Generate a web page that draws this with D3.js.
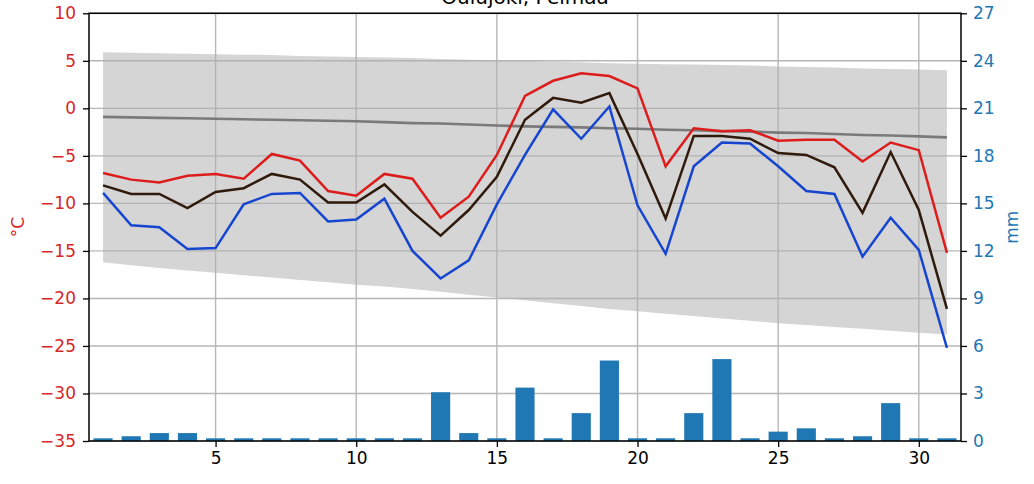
<!DOCTYPE html>
<html>
<head>
<meta charset="utf-8">
<script src="https://cdn.jsdelivr.net/npm/d3@7"></script>
<style>
	body { margin: 0; background: #fff; }
	svg text { font-family: "DejaVu Sans", sans-serif; }
</style>
</head>
<body>
<svg id="chart" width="1034" height="484"></svg>
<script>
// @ Data
const days = d3.range(1, 32);
const tMax = [-6.8, -7.5, -7.8, -7.1, -6.9, -7.4, -4.8, -5.5, -8.7, -9.2, -6.9, -7.4, -11.5, -9.3, -4.9, 1.3,
	2.9, 3.7, 3.4, 2.1, -6.1, -2.1, -2.4, -2.3, -3.4, -3.3, -3.3, -5.6, -3.6, -4.4, -15.2];
const tMean = [-8.1, -9.0, -9.0, -10.5, -8.8, -8.4, -6.9, -7.5, -9.9, -9.9, -8.0, -10.9, -13.4, -10.7, -7.2, -1.2,
	1.1, 0.6, 1.6, -4.8, -11.6, -2.9, -2.9, -3.2, -4.7, -4.9, -6.2, -11.0, -4.6, -10.7, -21.1];
const tMin = [-8.9, -12.3, -12.5, -14.8, -14.7, -10.1, -9.0, -8.9, -11.9, -11.7, -9.5, -15.0, -17.9, -16.0, -10.1, -4.9,
	-0.1, -3.2, 0.2, -10.2, -15.3, -6.1, -3.6, -3.7, -6.1, -8.7, -9.0, -15.6, -11.5, -14.9, -25.2];
const climMean = [-0.9, -0.95, -1.0, -1.05, -1.1, -1.15, -1.2, -1.25, -1.3, -1.35, -1.45, -1.55, -1.6, -1.7, -1.8, -1.9,
	-1.95, -2.0, -2.1, -2.15, -2.25, -2.3, -2.4, -2.45, -2.55, -2.6, -2.7, -2.8, -2.85, -2.95, -3.05];
const climHigh = [5.9, 5.85, 5.8, 5.75, 5.7, 5.65, 5.6, 5.5, 5.45, 5.4, 5.35, 5.3, 5.2, 5.1, 5.05, 5.0,
	4.9, 4.85, 4.75, 4.7, 4.65, 4.6, 4.55, 4.5, 4.4, 4.35, 4.3, 4.2, 4.15, 4.1, 4.0];
const climLow = [-16.2, -16.5, -16.8, -17.05, -17.3, -17.55, -17.8, -18.05, -18.3, -18.55, -18.75, -19.0, -19.3, -19.6, -19.9, -20.2,
	-20.5, -20.8, -21.1, -21.35, -21.6, -21.85, -22.1, -22.35, -22.6, -22.8, -23.0, -23.2, -23.4, -23.6, -23.8];
const precip = [0.17, 0.3, 0.5, 0.5, 0.17, 0.17, 0.17, 0.17, 0.17, 0.17, 0.17, 0.17, 3.08, 0.5, 0.17, 3.37,
	0.17, 1.76, 5.08, 0.17, 0.17, 1.76, 5.17, 0.17, 0.59, 0.8, 0.17, 0.3, 2.39, 0.17, 0.17];

const title = "Oulujoki, Pelmaa";
const tTicks = d3.range(-35, 11, 5);
const pTicks = d3.range(0, 28, 3);
const xTicks = [5, 10, 15, 20, 25, 30];

// @ Layout
const plotL = 89, plotR = 961, plotT = 13.3, plotB = 441;
const svg = d3.select("#chart");

const x = d3.scaleLinear().domain([0.5, 31.5]).range([plotL, plotR]);
const yT = d3.scaleLinear().domain([-35, 10]).range([plotB, plotT]);
const yP = d3.scaleLinear().domain([0, 27]).range([plotB, plotT]);

const red = "#dd1c1c";
const blue = "#1f77b4";

// band of climatology
const band = d3.area()
	.x((d, i) => x(days[i]))
	.y0((d, i) => yT(climLow[i]))
	.y1((d) => yT(d));
svg.append("path")
	.datum(climHigh)
	.attr("d", band)
	.attr("fill", "#d5d5d5");

// grid
const grid = svg.append("g").attr("stroke", "#b0b0b0").attr("stroke-width", 1.4).attr("opacity", 0.9);
grid.selectAll("line.h")
	.data(tTicks)
	.enter()
	.append("line")
	.attr("x1", plotL).attr("x2", plotR)
	.attr("y1", (d) => yT(d)).attr("y2", (d) => yT(d));
grid.selectAll("line.v")
	.data(xTicks)
	.enter()
	.append("line")
	.attr("y1", plotT).attr("y2", plotB)
	.attr("x1", (d) => x(d)).attr("x2", (d) => x(d));

// lines
const lineOf = (arr) => d3.line().x((d, i) => x(days[i])).y((d) => yT(d))(arr);
const series = [
	{ values: climMean, color: "#7a7a7a", width: 2.6 },
	{ values: tMax, color: red, width: 2.5 },
	{ values: tMean, color: "#2f1a0c", width: 2.5 },
	{ values: tMin, color: "#1646d0", width: 2.5 },
];
svg.append("g")
	.selectAll("path")
	.data(series)
	.enter()
	.append("path")
	.attr("d", (d) => lineOf(d.values))
	.attr("fill", "none")
	.attr("stroke", (d) => d.color)
	.attr("stroke-width", (d) => d.width)
	.attr("stroke-linejoin", "miter");

// precipitation bars
const barW = 0.68;
svg.append("g")
	.selectAll("rect")
	.data(precip)
	.enter()
	.append("rect")
	.attr("x", (d, i) => x(days[i] - barW / 2))
	.attr("width", x(barW) - x(0))
	.attr("y", (d) => yP(d))
	.attr("height", (d) => yP(0) - yP(d))
	.attr("fill", blue);

// @ Axes
const styleAxis = (g, color) => {
	g.select(".domain").remove();
	g.selectAll(".tick line").attr("stroke", "#000").attr("stroke-width", 1.3);
	g.selectAll(".tick text").attr("fill", color).style("font-size", "17px").style("font-family", "DejaVu Sans");
};
svg.append("g")
	.attr("transform", `translate(${plotL},0)`)
	.call(d3.axisLeft(yT).tickValues(tTicks).tickSize(6).tickPadding(7).tickFormat((d) => d3.format("d")(d).replace("-", "\u2212")))
	.call((g) => styleAxis(g, "#d62728"));
svg.append("g")
	.attr("transform", `translate(${plotR},0)`)
	.call(d3.axisRight(yP).tickValues(pTicks).tickSize(6).tickPadding(6))
	.call((g) => styleAxis(g, blue));
svg.append("g")
	.attr("transform", `translate(0,${plotB})`)
	.call(d3.axisBottom(x).tickValues(xTicks).tickSize(6).tickPadding(5))
	.call((g) => styleAxis(g, "#000"));

// spines
svg.append("rect")
	.attr("x", plotL).attr("y", plotT)
	.attr("width", plotR - plotL).attr("height", plotB - plotT)
	.attr("fill", "none")
	.attr("stroke", "#000")
	.attr("stroke-width", 1.5);

// labels
svg.append("text")
	.attr("transform", `translate(24,${(plotT + plotB) / 2}) rotate(-90)`)
	.attr("text-anchor", "middle")
	.attr("fill", "#d62728")
	.style("font-size", "17px")
	.text("°C");
svg.append("text")
	.attr("transform", `translate(1018,${(plotT + plotB) / 2}) rotate(-90)`)
	.attr("text-anchor", "middle")
	.attr("fill", blue)
	.style("font-size", "17px")
	.text("mm");
svg.append("text")
	.attr("x", (plotL + plotR) / 2)
	.attr("y", 4)
	.attr("text-anchor", "middle")
	.attr("fill", "#000")
	.style("font-size", "20px")
	.text(title);
</script>
</body>
</html>
